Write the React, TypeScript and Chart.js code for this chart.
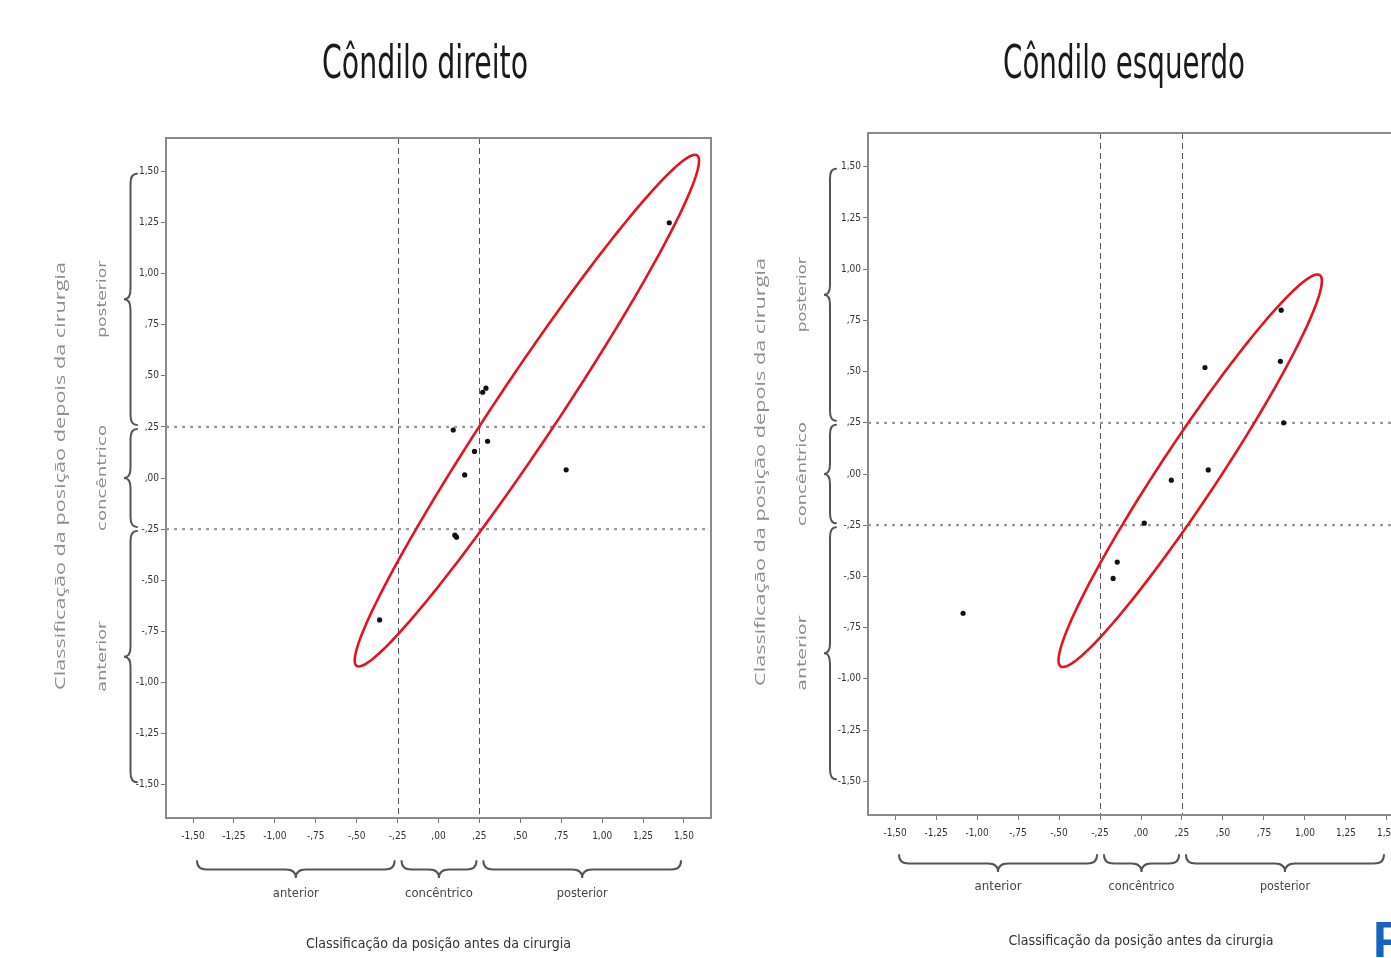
import React, { useEffect, useRef } from "react";
import { Chart, registerables } from "chart.js";

Chart.register(...registerables);

// ---------- data ----------
const TICK_VALUES = [-1.5, -1.25, -1, -0.75, -0.5, -0.25, 0, 0.25, 0.5, 0.75, 1, 1.25, 1.5];
const TICK_LABELS = ["-1,50", "-1,25", "-1,00", "-,75", "-,50", "-,25", ",00", ",25", ",50", ",75", "1,00", "1,25", "1,50"];
const CATEGORIES = ["anterior", "concêntrico", "posterior"];
const CATEGORY_BOUNDS = [[-1.5, -0.25], [-0.25, 0.25], [0.25, 1.5]];
const CUTOFFS = [-0.25, 0.25];

const DIREITO_TITLE = "Côndilo direito";
const DIREITO_X = [1.41, 0.27, 0.29, 0.09, 0.30, 0.22, 0.16, 0.78, 0.11, 0.10, -0.36];
const DIREITO_Y = [1.25, 0.42, 0.44, 0.235, 0.18, 0.13, 0.015, 0.04, -0.29, -0.28, -0.695];
const DIREITO_ELLIPSE_CENTER = [0.54, 0.33];
const DIREITO_ELLIPSE_MAJOR = [1.04, 1.25];
const DIREITO_ELLIPSE_MINOR = [0.158, -0.084];

const ESQUERDO_TITLE = "Côndilo esquerdo";
const ESQUERDO_X = [0.855, 0.85, 0.39, 0.87, 0.41, 0.185, 0.02, -0.145, -0.17, -1.085];
const ESQUERDO_Y = [0.80, 0.55, 0.52, 0.25, 0.02, -0.03, -0.24, -0.43, -0.51, -0.68];
const ESQUERDO_ELLIPSE_CENTER = [0.30, 0.016];
const ESQUERDO_ELLIPSE_MAJOR = [0.79, 0.955];
const ESQUERDO_ELLIPSE_MINOR = [0.144, -0.078];

const Y_TITLE = "Classificação da posição depois da cirurgia";
const X_TITLE = "Classificação da posição antes da cirurgia";
const AXIS_LIMIT = 1.665;

const NARROW = '"Liberation Sans Narrow", "DejaVu Sans Condensed", "Open Sans", sans-serif';
const SANS = '"Open Sans", "DejaVu Sans", sans-serif';

function fitText(ctx: CanvasRenderingContext2D, text: string, x: number, y: number, width: number, size: number, color: string, rot = 0, family = NARROW) {
  ctx.save();
  ctx.font = `${size}px ${family}`;
  const m = ctx.measureText(text).width || 1;
  ctx.translate(x, y);
  ctx.rotate(rot);
  ctx.scale(width / m, 1);
  ctx.fillStyle = color;
  ctx.textAlign = "center";
  ctx.textBaseline = "middle";
  ctx.fillText(text, 0, 0);
  ctx.restore();
}

// brace along local u (0..L) with tip at v=-h; map converts local to canvas
function brace(ctx: CanvasRenderingContext2D, L: number, h: number, map: (u: number, v: number) => [number, number]) {
  const r = Math.min(10, L / 6);
  const m = L / 2;
  const P = (u: number, v: number) => map(u, v);
  ctx.beginPath();
  let p = P(0, 0); ctx.moveTo(p[0], p[1]);
  let c = P(0, -h / 2); p = P(r, -h / 2); ctx.quadraticCurveTo(c[0], c[1], p[0], p[1]);
  p = P(m - r, -h / 2); ctx.lineTo(p[0], p[1]);
  c = P(m, -h / 2); p = P(m, -h); ctx.quadraticCurveTo(c[0], c[1], p[0], p[1]);
  c = P(m, -h / 2); p = P(m + r, -h / 2); ctx.quadraticCurveTo(c[0], c[1], p[0], p[1]);
  p = P(L - r, -h / 2); ctx.lineTo(p[0], p[1]);
  c = P(L, -h / 2); p = P(L, 0); ctx.quadraticCurveTo(c[0], c[1], p[0], p[1]);
  ctx.stroke();
}

type PanelCfg = {
  left: number; width: number;
  area: { left: number; top: number; right: number; bottom: number };
  title: string; titleX: number; titleW: number;
  xs: number[]; ys: number[];
  ec: number[]; eu: number[]; ev: number[];
  yTitleX: number; yBraceX: number; yBraceH: number; yLabelX: number; yLabelW: number[];
  xBraceY: number; xBraceH: number; xLabelY: number; xLabelW: number[];
  xTitleY: number; xTitleW: number;
};

function makePlugin(cfg: PanelCfg) {
  return {
    id: "decor",
    beforeDatasetsDraw(chart: any) {
      const ctx: CanvasRenderingContext2D = chart.ctx;
      const xs = chart.scales.x, ys = chart.scales.y;
      const a = chart.chartArea;
      ctx.save();
      // vertical dashed cut-offs
      ctx.strokeStyle = "#555"; ctx.lineWidth = 1; ctx.setLineDash([6, 4]);
      CUTOFFS.forEach((v) => {
        const px = Math.round(xs.getPixelForValue(v)) + 0.5;
        ctx.beginPath(); ctx.moveTo(px, a.top); ctx.lineTo(px, a.bottom); ctx.stroke();
      });
      // horizontal dotted cut-offs
      ctx.strokeStyle = "#9a9a9a"; ctx.lineWidth = 2.2; ctx.setLineDash([3, 5]);
      CUTOFFS.forEach((v) => {
        const py = ys.getPixelForValue(v);
        ctx.beginPath(); ctx.moveTo(a.left, py); ctx.lineTo(a.right, py); ctx.stroke();
      });
      ctx.setLineDash([]);
      // ellipse
      ctx.strokeStyle = "#e3141d"; ctx.lineWidth = 2.6;
      ctx.beginPath();
      for (let i = 0; i <= 180; i++) {
        const t = (i / 180) * Math.PI * 2;
        const dx = cfg.ec[0] + cfg.eu[0] * Math.cos(t) + cfg.ev[0] * Math.sin(t);
        const dy = cfg.ec[1] + cfg.eu[1] * Math.cos(t) + cfg.ev[1] * Math.sin(t);
        const px = xs.getPixelForValue(dx), py = ys.getPixelForValue(dy);
        if (i === 0) ctx.moveTo(px, py); else ctx.lineTo(px, py);
      }
      ctx.closePath(); ctx.stroke();
      ctx.restore();
    },
    afterDraw(chart: any) {
      const ctx: CanvasRenderingContext2D = chart.ctx;
      const xs = chart.scales.x, ys = chart.scales.y;
      const a = chart.chartArea;
      ctx.save();
      // frame
      ctx.strokeStyle = "#8a8a8a"; ctx.lineWidth = 2;
      ctx.strokeRect(a.left, a.top, a.right - a.left, a.bottom - a.top);
      // title
      fitText(ctx, cfg.title, cfg.titleX, 66, cfg.titleW, 46, "#1a1a1a");
      // y braces
      ctx.strokeStyle = "#555"; ctx.lineWidth = 2; ctx.lineCap = "round";
      CATEGORY_BOUNDS.forEach((b, i) => {
        const y1 = ys.getPixelForValue(b[1]) + 2, y2 = ys.getPixelForValue(b[0]) - 2;
        brace(ctx, y2 - y1, cfg.yBraceH, (u, v) => [cfg.yBraceX + v, y1 + u]);
        fitText(ctx, CATEGORIES[i], cfg.yLabelX, (y1 + y2) / 2, cfg.yLabelW[i], 13, "#8c8c8c", -Math.PI / 2);
      });
      // x braces
      CATEGORY_BOUNDS.forEach((b, i) => {
        const x1 = xs.getPixelForValue(b[0]) + 4, x2 = xs.getPixelForValue(b[1]) - 3;
        brace(ctx, x2 - x1, cfg.xBraceH, (u, v) => [x1 + u, cfg.xBraceY - v]);
        fitText(ctx, CATEGORIES[i], (x1 + x2) / 2, cfg.xLabelY, cfg.xLabelW[i], 13, "#444");
      });
      // axis titles
      fitText(ctx, Y_TITLE, cfg.yTitleX, (a.top + a.bottom) / 2 - 2, 428, 14, "#8f8f8f", -Math.PI / 2, SANS);
      fitText(ctx, X_TITLE, xs.getPixelForValue(0), cfg.xTitleY, cfg.xTitleW, 14, "#333");
      ctx.restore();
    },
  };
}

function Panel({ cfg }: { cfg: PanelCfg }) {
  const ref = useRef<HTMLCanvasElement>(null);
  useEffect(() => {
    if (!ref.current) return;
    const H = 958;
    const tickFont = { family: NARROW, size: 10 };
    const chart = new Chart(ref.current, {
      type: "scatter",
      data: {
        datasets: [
          {
            data: cfg.xs.map((x, i) => ({ x, y: cfg.ys[i] })),
            backgroundColor: "#111",
            borderColor: "#111",
            borderWidth: 0,
            pointRadius: 2.6,
          },
        ],
      },
      options: {
        animation: false,
        responsive: false,
        layout: { padding: { left: 0, top: cfg.area.top, right: cfg.width - cfg.area.right, bottom: 0 } },
        plugins: { legend: { display: false }, tooltip: { enabled: false }, title: { display: false } },
        scales: {
          x: {
            type: "linear", min: -AXIS_LIMIT, max: AXIS_LIMIT,
            afterBuildTicks: (s: any) => { s.ticks = TICK_VALUES.map((v) => ({ value: v })); },
            afterFit: (s: any) => { s.height = H - cfg.area.bottom; },
            ticks: { callback: (_v: any, i: number) => TICK_LABELS[i], font: tickFont, color: "#333", maxRotation: 0, autoSkip: false, padding: 7 },
            grid: { drawOnChartArea: false, drawTicks: true, tickLength: 5, color: "#777" },
            border: { display: false },
          },
          y: {
            type: "linear", min: -AXIS_LIMIT, max: AXIS_LIMIT,
            afterBuildTicks: (s: any) => { s.ticks = TICK_VALUES.map((v) => ({ value: v })); },
            afterFit: (s: any) => { s.width = cfg.area.left; },
            ticks: { callback: (_v: any, i: number) => TICK_LABELS[i], font: tickFont, color: "#333", autoSkip: false, padding: 2 },
            grid: { drawOnChartArea: false, drawTicks: true, tickLength: 5, color: "#777" },
            border: { display: false },
          },
        },
      } as any,
      plugins: [makePlugin(cfg)],
    });
    return () => chart.destroy();
  }, []);
  return (
    <canvas
      ref={ref}
      width={cfg.width}
      height={958}
      style={{ position: "absolute", left: cfg.left, top: 0, width: cfg.width, height: 958 }}
    />
  );
}

const LEFT_CFG: PanelCfg = {
  left: 0, width: 760,
  area: { left: 166, top: 138, right: 711, bottom: 818 },
  title: DIREITO_TITLE, titleX: 425, titleW: 206,
  xs: DIREITO_X, ys: DIREITO_Y,
  ec: DIREITO_ELLIPSE_CENTER, eu: DIREITO_ELLIPSE_MAJOR, ev: DIREITO_ELLIPSE_MINOR,
  yTitleX: 61, yBraceX: 137, yBraceH: 13, yLabelX: 103, yLabelW: [70, 106, 77],
  xBraceY: 861, xBraceH: 17, xLabelY: 894, xLabelW: [46, 68, 51],
  xTitleY: 944, xTitleW: 265,
};

const RIGHT_CFG: PanelCfg = {
  left: 700, width: 760,
  area: { left: 168, top: 133, right: 714, bottom: 815 },
  title: ESQUERDO_TITLE, titleX: 424, titleW: 242,
  xs: ESQUERDO_X, ys: ESQUERDO_Y,
  ec: ESQUERDO_ELLIPSE_CENTER, eu: ESQUERDO_ELLIPSE_MAJOR, ev: ESQUERDO_ELLIPSE_MINOR,
  yTitleX: 61, yBraceX: 136, yBraceH: 12, yLabelX: 103, yLabelW: [75, 104, 75],
  xBraceY: 855, xBraceH: 17, xLabelY: 887, xLabelW: [47, 66, 50],
  xTitleY: 941, xTitleW: 265,
};

export default function App() {
  return (
    <div style={{ position: "fixed", left: 0, top: 0, width: 1391, height: 958, overflow: "hidden", background: "#fff" }}>
      <Panel cfg={LEFT_CFG} />
      <Panel cfg={RIGHT_CFG} />
      <div
        style={{
          position: "absolute", left: 1373, top: 915, fontFamily: '"Liberation Sans", Arial, sans-serif',
          fontWeight: "bold", fontSize: 50, lineHeight: "50px", color: "#1565c0",
        }}
      >
        P
      </div>
    </div>
  );
}
